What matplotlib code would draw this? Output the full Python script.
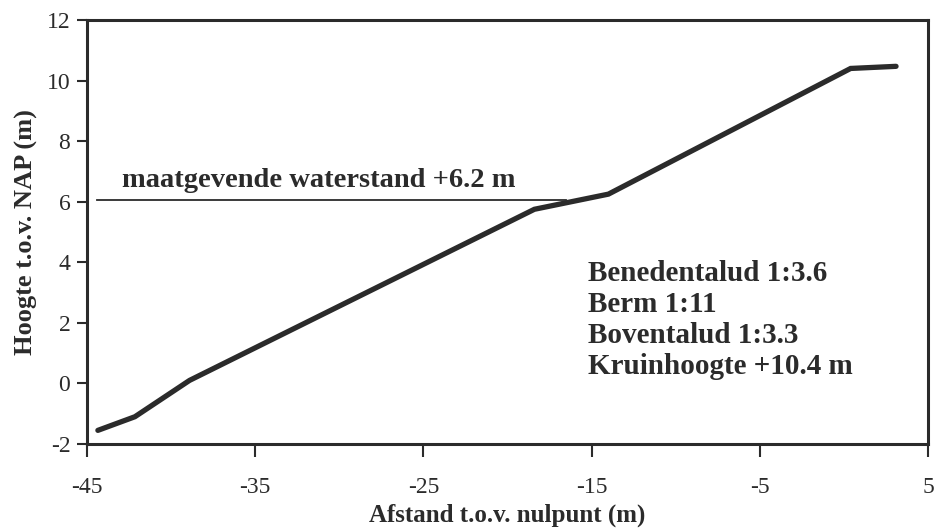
import matplotlib
matplotlib.use("Agg")
import matplotlib.pyplot as plt

# Dike profile (distance vs height)
afstand = [-44.35, -42.15, -38.9, -18.4, -14.0, 0.4, 3.1]
hoogte = [-1.55, -1.1, 0.1, 5.75, 6.25, 10.4, 10.47]

# Design water level line
water_x = [-44.4, -16.5]
water_y = [6.05, 6.05]
water_label = "maatgevende waterstand +6.2 m"

info_lines = ["Benedentalud 1:3.6", "Berm 1:11", "Boventalud 1:3.3", "Kruinhoogte +10.4 m"]

x_ticks = [-45, -35, -25, -15, -5, 5]
y_ticks = [-2, 0, 2, 4, 6, 8, 10, 12]

col = "#2b2b2b"
plt.rcParams['font.family'] = ['Liberation Serif', 'DejaVu Serif']
plt.rcParams['axes.unicode_minus'] = False

fig = plt.figure(figsize=(9.37, 5.29), dpi=100)
ax = fig.add_axes([0.0928, 0.1607, 0.8976, 0.8015])

ax.plot(afstand, hoogte, color=col, lw=3.8, solid_capstyle='round', solid_joinstyle='miter')
ax.plot(water_x, water_y, color=col, lw=1.3)
ax.text(-42.9, 6.3, water_label, fontsize=20.5, fontweight='bold', color=col, ha='left', va='bottom')

for i, s in enumerate(info_lines):
    ax.text(-15.2, 3.64 - i * 1.03, s, fontsize=21, fontweight='bold', color=col, ha='left', va='center')

ax.set_xlim(-45, 5)
ax.set_ylim(-2, 12)
ax.set_xticks(x_ticks)
ax.set_yticks(y_ticks)
ax.tick_params(axis='both', direction='out', width=1.5, colors=col, labelsize=17)
ax.tick_params(axis='x', length=9, pad=15)
ax.tick_params(axis='y', length=7, pad=5)
for sp in ax.spines.values():
    sp.set_linewidth(2.2)
    sp.set_color(col)

ax.set_xlabel("Afstand t.o.v. nulpunt (m)", fontsize=18, fontweight='bold', color=col, labelpad=4)
ax.set_ylabel("Hoogte t.o.v. NAP (m)", fontsize=19, fontweight='bold', color=col, labelpad=6)

fig.savefig("out.png", dpi=100)
